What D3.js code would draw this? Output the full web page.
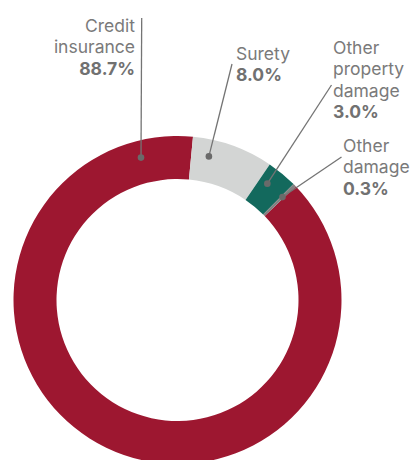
<!DOCTYPE html>
<html>
<head>
<meta charset="utf-8">
<script src="https://cdn.jsdelivr.net/npm/d3@7"></script>
<style>
  html, body { margin: 0; padding: 0; background: #fff; }
  svg { display: block; }
  text { font-family: Inter, "Open Sans", sans-serif; }
</style>
</head>
<body>
<svg id="chart" width="412" height="460"></svg>
<script>
// Premium mix by line of business (%)
const categories = ["Credit insurance", "Surety", "Other property damage", "Other damage"];
const shares = [88.7, 8.0, 3.0, 0.3];
const labelLines = [["Credit", "insurance"], ["Surety"], ["Other", "property", "damage"], ["Other", "damage"]];
const valueLabels = ["88.7%", "8.0%", "3.0%", "0.3%"];

const colors = ["#9d1730", "#d3d5d4", "#13695d", "#808181"];

// Label placement: text anchor, text block origin, leader start and where the leader lands inside its slice
const layout = [
  { anchor: "end",   x: 135, y: 32,  lineTop: [141.7, 18],  slicePos: 0.938 },
  { anchor: "start", x: 236, y: 60,  lineTop: [232, 64],    slicePos: 0.24 },
  { anchor: "start", x: 333, y: 54,  lineTop: [331.5, 85],  slicePos: 0.32 },
  { anchor: "start", x: 343, y: 152, lineTop: [341.5, 157], slicePos: 0.5 }
];

const W = 412, H = 460;
const cx = 177.5, cy = 300;
const outerR = 164, innerR = 121, dotR = 147;
const lineH = 21.3;

const svg = d3.select("#chart");
const g = svg.append("g").attr("transform", `translate(${cx},${cy})`);

const start = 46.1 * Math.PI / 180;
const pie = d3.pie().sort(null).startAngle(start).endAngle(start + 2 * Math.PI);
const arcs = pie(shares);
const arc = d3.arc().innerRadius(innerR).outerRadius(outerR);

g.selectAll("path.slice")
  .data(arcs)
  .join("path")
  .attr("class", "slice")
  .attr("d", arc)
  .attr("fill", (d, i) => colors[i]);

// Leader lines and dots
arcs.forEach((d, i) => {
  const L = layout[i];
  const a = d.startAngle + (d.endAngle - d.startAngle) * L.slicePos;
  const px = cx + dotR * Math.sin(a);
  const py = cy - dotR * Math.cos(a);
  svg.append("line")
    .attr("x1", L.lineTop[0]).attr("y1", L.lineTop[1])
    .attr("x2", px).attr("y2", py)
    .attr("stroke", "#747474").attr("stroke-width", 1.3);
  svg.append("circle")
    .attr("cx", px).attr("cy", py).attr("r", 3.3)
    .attr("fill", "#6a6a6a");
});

// Category labels with bold shares
categories.forEach((c, i) => {
  const L = layout[i];
  const t = svg.append("text")
    .attr("text-anchor", L.anchor)
    .attr("font-size", 17.5)
    .attr("fill", "#7a7a7a");
  labelLines[i].forEach((ln, k) => {
    t.append("tspan").attr("x", L.x).attr("y", L.y + k * lineH).text(ln);
  });
  t.append("tspan")
    .attr("x", L.x).attr("y", L.y + labelLines[i].length * lineH)
    .attr("font-weight", 700).attr("fill", "#717171")
    .text(valueLabels[i]);
});
</script>
</body>
</html>
